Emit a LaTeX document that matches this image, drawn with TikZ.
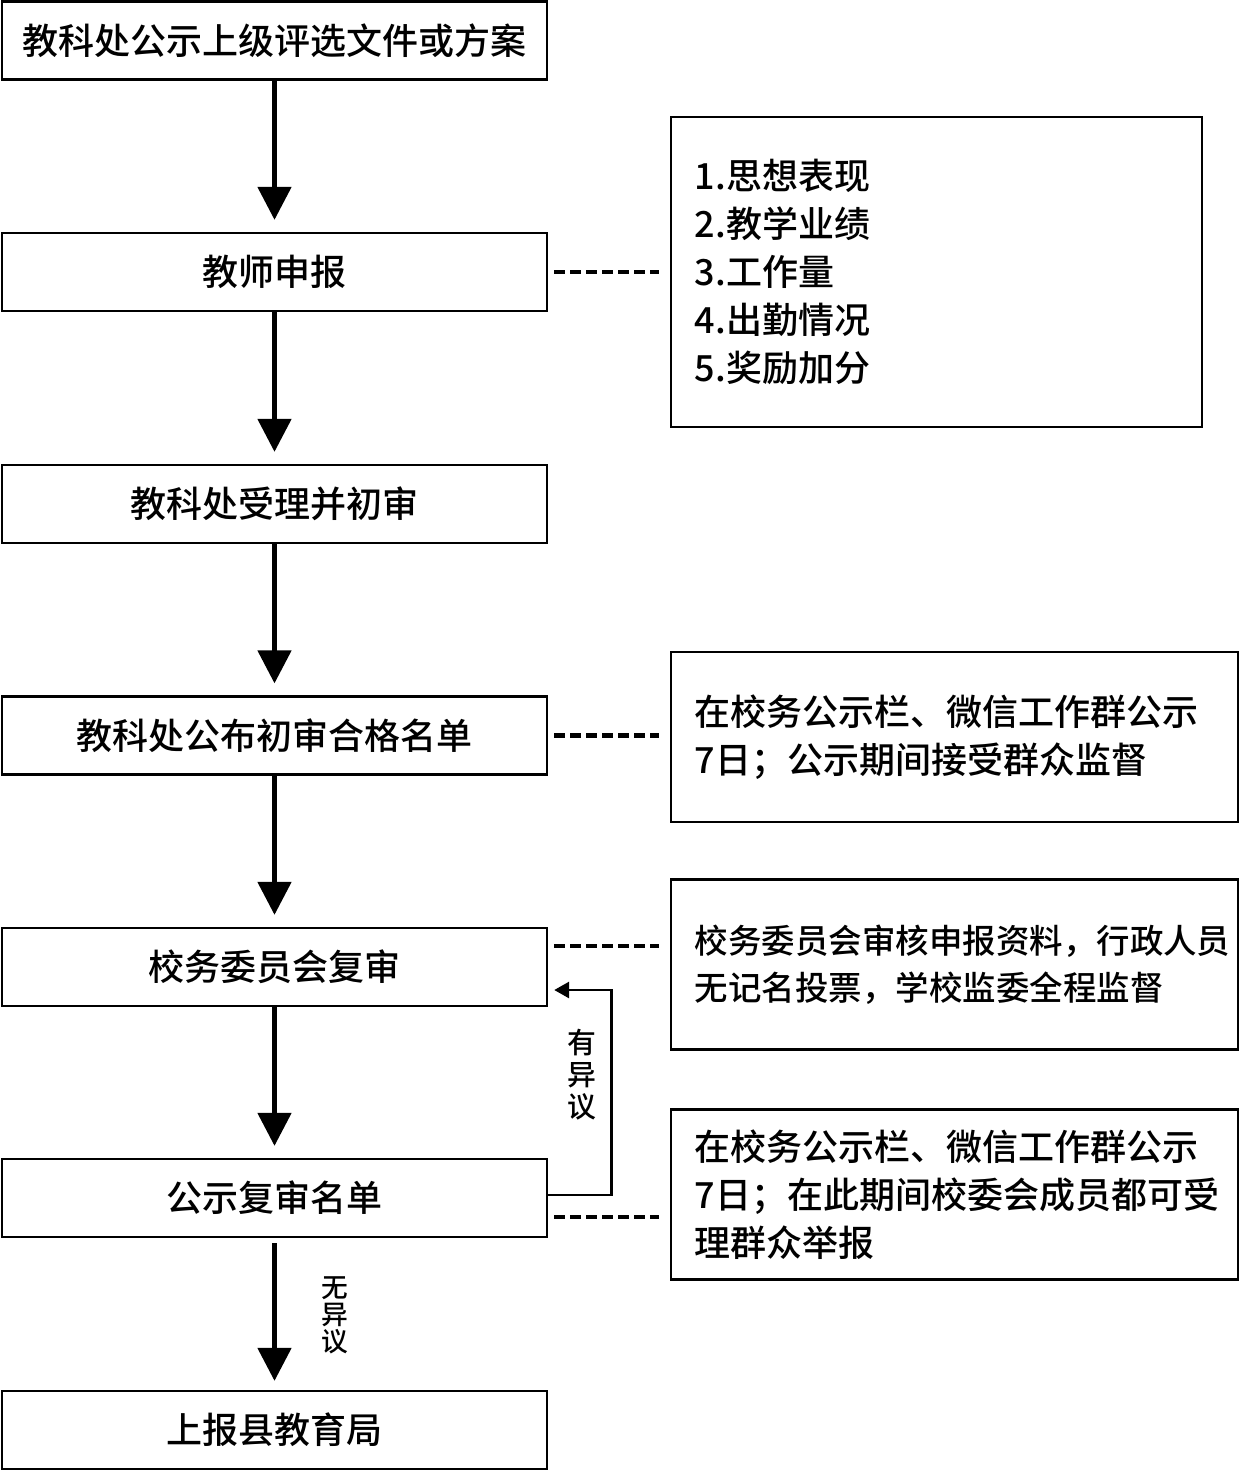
\documentclass[tikz,border=0pt]{standalone}
\usepackage{fontspec}
\setmainfont{Noto Sans CJK SC}[UprightFont=* Medium]
\usetikzlibrary{arrows.meta,calc}
\begin{document}
\begin{tikzpicture}[x=0.025cm,y=-0.025cm,
	stage/.style={draw,line width=1.6pt,minimum width=13.625cm,minimum height=1.95cm,inner sep=0pt,font=\fontsize{25.6pt}{34pt}\selectfont},
	note/.style={draw,line width=1.6pt,inner sep=0pt,align=left,minimum width=14.175cm,minimum height=4.25cm,text width=12.975cm,font=\fontsize{25.6pt}{34.1pt}\selectfont},
	flow/.style={line width=3.5pt,-{Triangle[length=0.825cm,width=0.825cm]},shorten >=0.3cm},
	link/.style={line width=3.4pt,dash pattern=on 7.8pt off 3.6pt,shorten <=0.15cm,shorten >=0.275cm},
	back/.style={line width=2.1pt,-{Triangle[length=0.375cm,width=0.4cm]},shorten >=0.15cm},
	tag/.style={align=center,inner sep=0pt}]
				\useasboundingbox (0,0) rectangle (1240,1471);
				\node[stage] (s1) at (274.5,40.5) {教科处公示上级评选文件或方案};
				\node[stage] (s2) at (274.5,272) {教师申报};
				\node[stage] (s3) at (274.5,504) {教科处受理并初审};
				\node[stage] (s4) at (274.5,735.5) {教科处公布初审合格名单};
				\node[stage] (s5) at (274.5,967) {校务委员会复审};
				\node[stage] (s6) at (274.5,1198) {公示复审名单};
				\node[stage] (s7) at (274.5,1430) {上报县教育局};
				\node[note,minimum width=13.275cm,minimum height=7.75cm,text width=12.075cm] (ra) at (936.5,272) {1.思想表现\\2.教学业绩\\3.工作量\\4.出勤情况\\5.奖励加分\\[0.1cm]};
				\node[note] (rb) at (954.5,737) {在校务公示栏、微信工作群公示\\7日；公示期间接受群众监督};
				\node[note,font=\fontsize{23.8pt}{33.5pt}\selectfont] (rc) at (954.5,964.5) {校务委员会审核申报资料，行政人员\\无记名投票，学校监委全程监督};
				\node[note] (rd) at (954.5,1194.5) {在校务公示栏、微信工作群公示\\7日；在此期间校委会成员都可受\\理群众举报};
				\draw[flow] (s1) -- (s2);
				\draw[flow] (s2) -- (s3);
				\draw[flow] (s3) -- (s4);
				\draw[flow] (s4) -- (s5);
				\draw[flow] (s5) -- (s6);
				\draw[flow,shorten <=0.125cm,shorten >=0.225cm] (s6) -- (s7);
				\coordinate (d5) at ($(s5.east)+(0,-21)$);
				\coordinate (d6) at ($(s6.east)+(0,19)$);
				\coordinate (q5) at ($(s5.east)+(0,23)$);
				\coordinate (q6) at ($(s6.east)+(0,-3)$);
				\draw[link] (s2) -- (ra);
				\draw[link] (s4.east) -- (s4.east -| rb.west);
				\draw[link] (d5) -- (d5 -| rc.west);
				\draw[link] (d6) -- (d6 -| rd.west);
				\draw[back] (q6) -- ++(63,0) |- (q5);
				\node[tag,font=\fontsize{20.5pt}{22.8pt}\selectfont] (yes) at (582,1075) {有\\异\\议};
				\node[tag,font=\fontsize{19pt}{19.2pt}\selectfont] (no) at (335,1315) {无\\异\\议};
			\end{tikzpicture}
\end{document}
